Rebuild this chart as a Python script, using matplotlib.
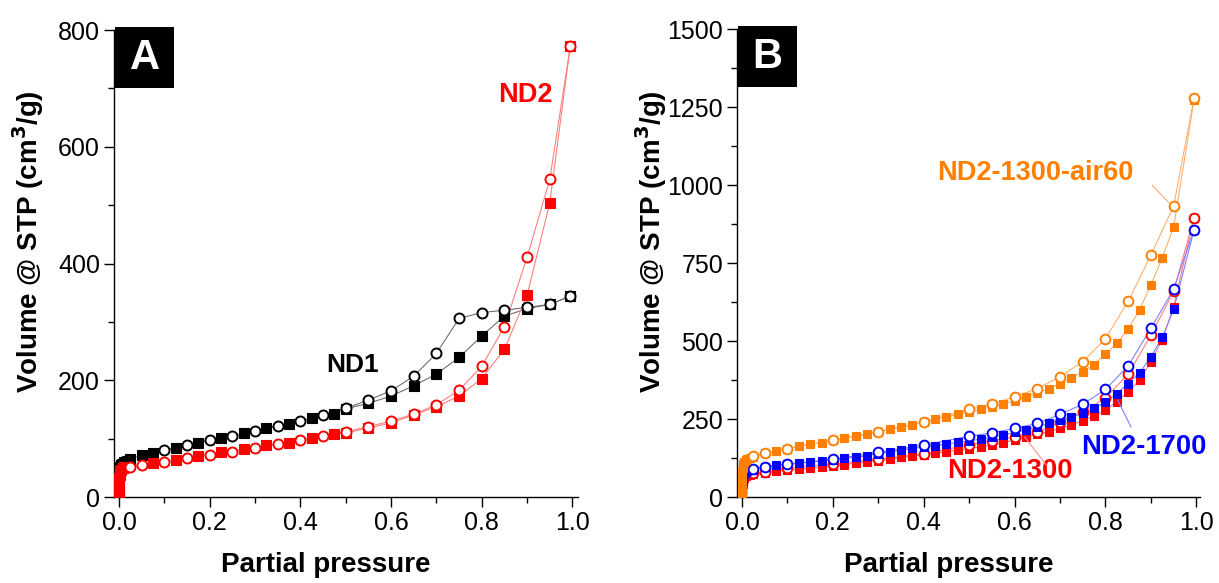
import matplotlib
matplotlib.use('Agg')
import matplotlib.pyplot as plt
from matplotlib.patches import Rectangle
from matplotlib.ticker import MultipleLocator

plt.rcParams['font.family'] = ['Liberation Sans', 'DejaVu Sans']

# ---------------- panel A ----------------
nd1_ads_x = [0.0002, 0.0005, 0.001, 0.002, 0.004, 0.007, 0.012, 0.018, 0.025, 0.05, 0.075,
             0.125, 0.175, 0.225, 0.275, 0.325, 0.375, 0.425, 0.475, 0.5, 0.55, 0.6, 0.65,
             0.7, 0.75, 0.8, 0.85, 0.9, 0.95, 0.995]
nd1_ads_y = [36, 42, 47, 51, 54, 57, 60, 62, 64.6, 72, 76,
             84, 93, 101.6, 109, 117.6, 125, 134.8, 143, 151, 160.5, 173, 190.7,
             210.7, 239, 276, 310, 322.6, 330, 344]
nd1_des_x = [0.995, 0.95, 0.9, 0.85, 0.8, 0.75, 0.7, 0.65, 0.6, 0.55, 0.5, 0.45, 0.4,
             0.35, 0.3, 0.25, 0.2, 0.15, 0.1]
nd1_des_y = [344, 330, 325, 320, 316, 306, 246, 207, 182, 166, 152, 140, 130,
             122, 113, 105, 97, 89, 81]

nd2_ads_x = [0.0001, 0.0002, 0.0004, 0.0007, 0.001, 0.0015, 0.002, 0.003, 0.005, 0.008,
             0.012, 0.018, 0.075, 0.125, 0.175, 0.225, 0.275, 0.325, 0.375, 0.425, 0.475,
             0.5, 0.55, 0.6, 0.65, 0.7, 0.75, 0.8, 0.85, 0.9, 0.95, 0.995]
nd2_ads_y = [3, 10, 18, 26, 32, 37, 41, 44, 47, 49,
             51, 52, 58.8, 63.4, 70.2, 77.6, 81.7, 88.5, 93, 100.5, 107.9,
             110, 118, 127, 140.5, 154.7, 173, 203, 253, 346, 504, 772]
nd2_des_x = [0.995, 0.95, 0.9, 0.85, 0.8, 0.75, 0.7, 0.65, 0.6, 0.55, 0.5, 0.45, 0.4,
             0.35, 0.3, 0.25, 0.2, 0.15, 0.1, 0.05, 0.025]
nd2_des_y = [772, 544, 411, 292, 224, 183, 158, 142, 130, 120.5, 112, 104.5, 97.6,
             90.8, 84.5, 77.6, 72, 66, 60.5, 55, 51]

# ---------------- panel B ----------------
p_low = [0.0001, 0.0002, 0.0004, 0.0007, 0.001, 0.0015, 0.002, 0.003, 0.005, 0.008, 0.012, 0.018]
p_ads = [0.025, 0.05, 0.075, 0.1, 0.125, 0.15, 0.175, 0.2, 0.225, 0.25, 0.275, 0.3, 0.325,
         0.35, 0.375, 0.4, 0.425, 0.45, 0.475, 0.5, 0.525, 0.55, 0.575, 0.6, 0.625, 0.65,
         0.675, 0.7, 0.725, 0.75, 0.775, 0.8, 0.825, 0.85, 0.875, 0.9, 0.925, 0.95, 0.995]
p_des = [0.995, 0.95, 0.9, 0.85, 0.8, 0.75, 0.7, 0.65, 0.6, 0.55, 0.5, 0.4, 0.3, 0.2,
         0.1, 0.05, 0.025]

n1300_low = [4, 10, 18, 27, 35, 43, 50, 56, 62, 66, 69, 71]
n1300_ads = [73, 78, 83, 86, 88.7, 92, 95, 100, 104, 109, 113, 117, 120.7,
             127, 131.4, 136, 140, 145, 150.6, 155, 161, 167, 174, 183, 193, 201,
             209, 220, 231, 245, 261, 279, 306, 338, 375, 434, 505, 610, 896]
n1300_des = [896, 660, 519, 394, 318, 272, 240, 207, 193, 181, 167, 138, 121, 106,
             92, 81, 76]

n1700_low = [5, 12, 22, 32, 42, 52, 60, 68, 75, 80, 84, 86]
n1700_ads = [88, 96, 102.6, 105, 108, 112, 115.4, 120, 124, 127.5, 132.5, 139, 145,
             150, 156, 160, 164.5, 170, 175, 180, 186, 192, 199, 207, 215, 225,
             236, 247, 258, 268, 284, 305.6, 332, 364, 398, 449.7, 512, 601.6, 858]
n1700_des = [858, 667, 541, 421, 345, 298, 265, 236, 220, 206, 195, 167, 143, 121,
             106, 97, 90]

air60_low = [10, 30, 50, 68, 82, 93, 101, 107, 113, 118, 122, 125]
air60_ads = [128, 140, 147, 155, 163.5, 169, 174, 182, 190, 195.5, 201, 208, 217,
             223, 231, 240, 250, 257.5, 265, 273, 281, 289, 298, 309, 321.6, 334,
             348, 364, 382.5, 402, 425, 458, 492.5, 538.5, 601.5, 679.5, 768, 866, 1275]
air60_des = [1281, 933, 776, 628, 508, 434, 386, 348, 322, 298, 281, 241, 209, 182,
             155, 142, 130]

fig = plt.figure(figsize=(12.19, 5.83), dpi=100)
axA = fig.add_axes([0.0935, 0.1475, 0.3806, 0.801])
axB = fig.add_axes([0.6046, 0.1475, 0.3798, 0.802])


def isotherm(ax, xa, ya, xd, yd, color, linecolor, ms_sq, ms_ci):
    ax.plot(xa, ya, '-', color=linecolor, lw=0.8, zorder=2)
    ax.plot(xd, yd, '-', color=linecolor, lw=0.8, zorder=2)
    ax.plot(xa, ya, 's', color=color, ms=ms_sq, mec=color, mew=0.8, ls='none', zorder=3)
    ax.plot(xd, yd, 'o', mfc='white', mec=color, ms=ms_ci, mew=1.4, ls='none', zorder=3)


isotherm(axA, nd1_ads_x, nd1_ads_y, nd1_des_x, nd1_des_y, 'black', '#707070', 6.5, 7.2)
isotherm(axA, nd2_ads_x, nd2_ads_y, nd2_des_x, nd2_des_y, '#ff0000', '#ff8080', 6.5, 7.2)

isotherm(axB, p_low + p_ads, n1300_low + n1300_ads, p_des, n1300_des, '#ff0000', '#ff8080', 6.2, 7.0)
isotherm(axB, p_low + p_ads, n1700_low + n1700_ads, p_des, n1700_des, '#0000ff', '#8080ff', 6.2, 7.0)
isotherm(axB, p_low + p_ads, air60_low + air60_ads, p_des, air60_des, '#ff8000', '#ffb070', 6.2, 7.0)

for ax, ymax, ymaj, ymin, tag, xmax in [(axA, 800, 200, 100, 'A', 1.012),
                                         (axB, 1500, 250, 125, 'B', 1.008)]:
    ax.set_xlim(-0.011, xmax)
    ax.set_ylim(0, ymax)
    ax.spines['top'].set_visible(False)
    ax.spines['right'].set_visible(False)
    for s in ['left', 'bottom']:
        ax.spines[s].set_linewidth(1.0)
    ax.xaxis.set_major_locator(MultipleLocator(0.2))
    ax.xaxis.set_minor_locator(MultipleLocator(0.1))
    ax.yaxis.set_major_locator(MultipleLocator(ymaj))
    ax.yaxis.set_minor_locator(MultipleLocator(ymin))
    ax.xaxis.set_major_formatter(matplotlib.ticker.FormatStrFormatter('%.1f'))
    ax.tick_params(which='major', direction='out', length=7, width=1.0, labelsize=18, pad=3)
    ax.tick_params(which='minor', direction='out', length=4, width=1.0)
    ax.set_xlabel('Partial pressure', fontsize=20, fontweight='bold')
    ax.set_ylabel('Volume @ STP (cm$^\\mathbf{3}$/g)', fontsize=20, fontweight='bold')
    ax.xaxis.set_label_coords(0.457, -0.118)
    ax.yaxis.set_label_coords(-0.146, 0.546)
    ax.add_patch(Rectangle((0.002, 0.876), 0.128, 0.131, transform=ax.transAxes,
                           facecolor='black', edgecolor='none', clip_on=False, zorder=5))
    ax.text(0.066, 0.941, tag, transform=ax.transAxes, color='white', fontsize=30,
            fontweight='bold', ha='center', va='center', zorder=6)

axA.text(0.515, 226, 'ND1', color='black', fontsize=19, fontweight='bold', ha='center', va='center')
axA.text(0.896, 688, 'ND2', color='#ff0000', fontsize=19.5, fontweight='bold', ha='center', va='center')

# labels in panel B with thin leader lines
axB.text(0.646, 1040, 'ND2-1300-air60', color='#ff8000', fontsize=19.5, fontweight='bold',
         ha='center', va='center')
axB.annotate('', xy=(0.941, 942), xytext=(0.903, 1000),
             arrowprops=dict(arrowstyle='-', color='#ffb070', lw=0.8, shrinkA=0, shrinkB=0))
axB.text(0.885, 162, 'ND2-1700', color='#0000ff', fontsize=19.8, fontweight='bold',
         ha='center', va='center')
axB.annotate('', xy=(0.827, 311), xytext=(0.856, 225),
             arrowprops=dict(arrowstyle='-', color='#8080ff', lw=0.8, shrinkA=0, shrinkB=0))
axB.text(0.589, 85, 'ND2-1300', color='#ff0000', fontsize=19.8, fontweight='bold',
         ha='center', va='center')
axB.annotate('', xy=(0.622, 193), xytext=(0.67, 102),
             arrowprops=dict(arrowstyle='-', color='#ff9090', lw=0.8, shrinkA=0, shrinkB=0))

plt.savefig('out.png', dpi=100)
